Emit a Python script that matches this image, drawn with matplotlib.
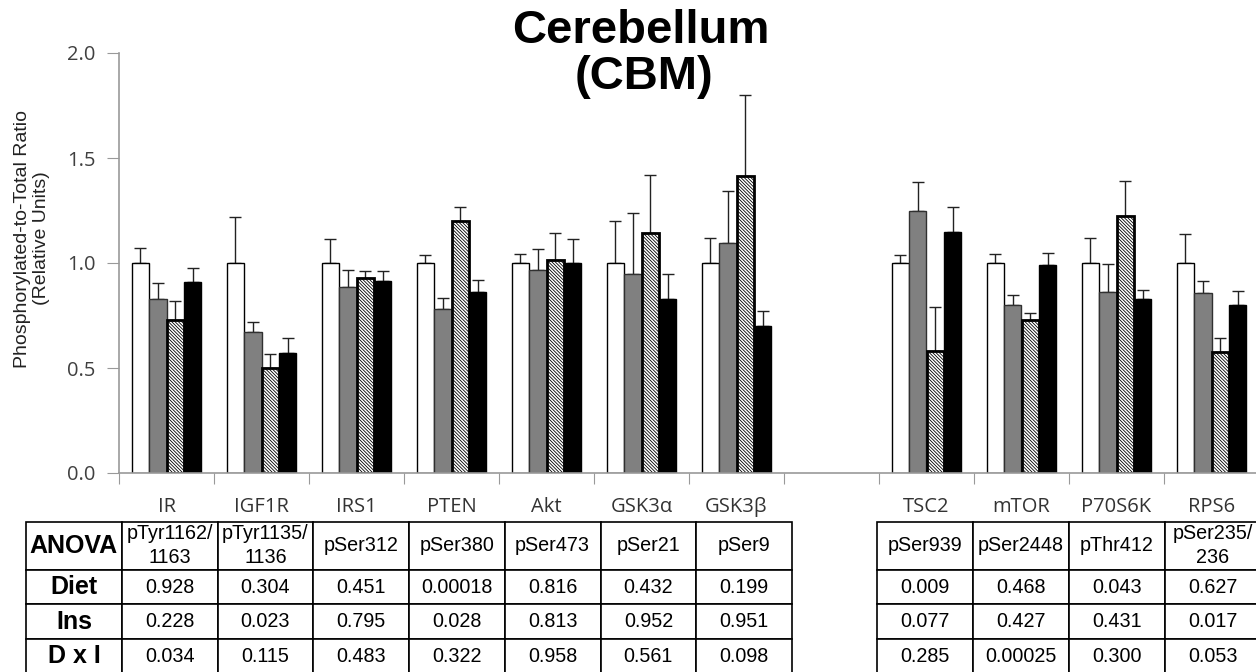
import numpy as np
import matplotlib
matplotlib.use('Agg')
import matplotlib.pyplot as plt

# 横轴类别（中间空一格）
categories = ['IR', 'IGF1R', 'IRS1', 'PTEN', 'Akt', 'GSK3α', 'GSK3β', '',
              'TSC2', 'mTOR', 'P70S6K', 'RPS6']

# 四组柱子的均值与误差
open_vals = [1.0, 1.0, 1.0, 1.0, 1.0, 1.0, 1.0, np.nan, 1.0, 1.0, 1.0, 1.0]
open_err = [0.07, 0.22, 0.115, 0.04, 0.045, 0.20, 0.12, np.nan, 0.04, 0.045, 0.12, 0.14]
gray_vals = [0.83, 0.67, 0.885, 0.78, 0.965, 0.95, 1.094, np.nan, 1.25, 0.80, 0.862, 0.857]
gray_err = [0.075, 0.05, 0.08, 0.055, 0.10, 0.29, 0.25, np.nan, 0.135, 0.05, 0.135, 0.057]
hatch_vals = [0.73, 0.50, 0.93, 1.20, 1.015, 1.145, 1.414, np.nan, 0.58, 0.727, 1.224, 0.578]
hatch_err = [0.09, 0.065, 0.03, 0.065, 0.13, 0.275, 0.385, np.nan, 0.21, 0.035, 0.165, 0.065]
black_vals = [0.91, 0.57, 0.915, 0.86, 1.0, 0.83, 0.70, np.nan, 1.146, 0.99, 0.83, 0.80]
black_err = [0.065, 0.075, 0.045, 0.06, 0.115, 0.12, 0.07, np.nan, 0.12, 0.06, 0.04, 0.068]

yticks = [0.0, 0.5, 1.0, 1.5, 2.0]

# ANOVA 表格
row_labels = ['ANOVA', 'Diet', 'Ins', 'D x I']
sites_left = ['pTyr1162/\n1163', 'pTyr1135/\n1136', 'pSer312', 'pSer380', 'pSer473', 'pSer21', 'pSer9']
diet_left = ['0.928', '0.304', '0.451', '0.00018', '0.816', '0.432', '0.199']
ins_left = ['0.228', '0.023', '0.795', '0.028', '0.813', '0.952', '0.951']
dxi_left = ['0.034', '0.115', '0.483', '0.322', '0.958', '0.561', '0.098']
sites_right = ['pSer939', 'pSer2448', 'pThr412', 'pSer235/\n236']
diet_right = ['0.009', '0.468', '0.043', '0.627']
ins_right = ['0.077', '0.427', '0.431', '0.017']
dxi_right = ['0.285', '0.00025', '0.300', '0.053']

plt.rcParams['hatch.linewidth'] = 0.6

W, H = 1256, 672
fig = plt.figure(figsize=(W / 100, H / 100), dpi=100)
ax = fig.add_axes([119 / W, 1 - 473 / H, 1140 / W, 420 / H])

x = np.arange(len(categories)) + 0.5
bw = 0.184
series = [
    (open_vals, open_err, dict(color='white', edgecolor='black', linewidth=1.0)),
    (gray_vals, gray_err, dict(color='#808080', edgecolor='#303030', linewidth=1.0)),
    (hatch_vals, hatch_err, dict(color='white', edgecolor='black', linewidth=2.0, hatch='\\' * 10)),
    (black_vals, black_err, dict(color='black', edgecolor='black', linewidth=1.0)),
]
for i, (vals, errs, style) in enumerate(series):
    pos = x + (i - 1.5) * bw
    vals = np.array(vals)
    errs = np.array(errs)
    ok = ~np.isnan(vals)
    ax.errorbar(pos[ok], vals[ok], yerr=[np.zeros(ok.sum()), errs[ok]], fmt='none',
                ecolor='#222222', elinewidth=1.0, capsize=4, capthick=1.0, zorder=1)
    ax.bar(pos[ok], vals[ok], width=bw, zorder=2, **style)

ax.set_xlim(0, len(categories))
ax.set_ylim(0, 2.0)
ax.set_yticks(yticks)
ax.set_yticklabels(['%.1f' % t for t in yticks], fontfamily='Open Sans', fontsize=14.5, color='#404040')
ax.set_xticks(np.arange(len(categories) + 1))
ax.set_xticklabels([])
ax.set_xticks(x, minor=True)
ax.set_xticklabels(categories, minor=True, fontfamily='Open Sans', fontsize=14.5, color='#333333')
ax.tick_params(axis='x', which='major', length=8, color='#999999', direction='out')
ax.tick_params(axis='x', which='minor', length=0, pad=17)
ax.tick_params(axis='y', length=9, color='#999999', pad=8)
for s in ['top', 'right']:
    ax.spines[s].set_visible(False)
for s in ['left', 'bottom']:
    ax.spines[s].set_color('#999999')
    ax.spines[s].set_linewidth(1.2)

fig.text(32 / W, 1 - 238.5 / H, 'Phosphorylated-to-Total Ratio\n(Relative Units)',
         rotation=90, ha='center', va='center', fontfamily='Liberation Sans', fontsize=14,
         color='#222222', linespacing=1.2)

fig.text(641 / W, 1 - 43 / H, 'Cerebellum', ha='center', va='baseline',
         fontfamily='Liberation Sans', fontweight='bold', fontsize=34)
fig.text(644 / W, 1 - 89 / H, '(CBM)', ha='center', va='baseline',
         fontfamily='Liberation Sans', fontweight='bold', fontsize=34)


def draw_table(rect, sites, rows, labels=None):
    tax = fig.add_axes(rect)
    tax.axis('off')
    if labels is not None:
        cells = [[labels[0]] + sites] + [[lab] + r for lab, r in zip(labels[1:], rows)]
    else:
        cells = [sites] + rows
    tbl = tax.table(cellText=cells, cellLoc='center', bbox=[0, 0, 1, 1])
    tbl.auto_set_font_size(False)
    for (r, c), cell in tbl.get_celld().items():
        cell.set_edgecolor('black')
        cell.set_linewidth(1.2)
        cell.set_height(48 if r == 0 else 34.5)
        t = cell.get_text()
        t.set_fontfamily('Liberation Sans')
        t.set_linespacing(1.3)
        if labels is not None and c == 0:
            t.set_fontweight('bold')
            t.set_fontsize(18)
        else:
            t.set_fontsize(14.2)
    return tbl


tb = -1.5 / H
th = 151.8 / H
draw_table([26 / W, tb, 766 / W, th], sites_left, [diet_left, ins_left, dxi_left], row_labels)
draw_table([877 / W, tb, 384 / W, th], sites_right, [diet_right, ins_right, dxi_right])

fig.savefig('out.png', dpi=100)
